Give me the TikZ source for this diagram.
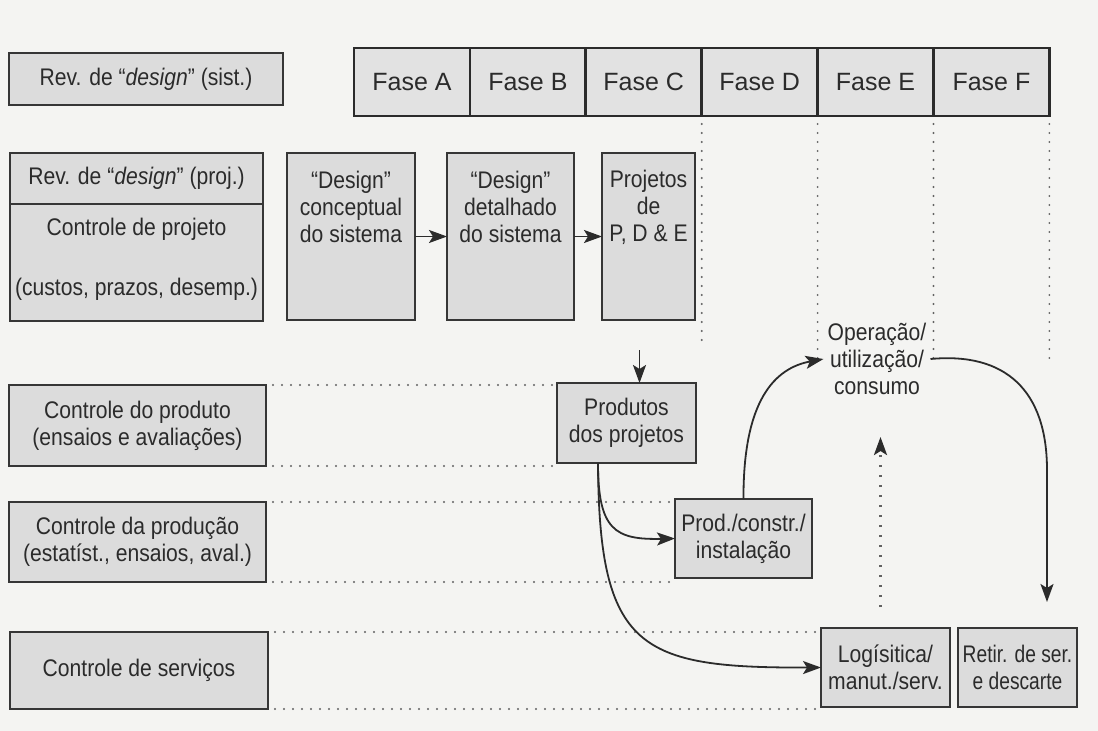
\documentclass[tikz,border=0pt]{standalone}
\usepackage{fontspec}
\setmainfont{Liberation Sans}
\newfontfamily\narrowsans[FakeStretch=0.88]{Liberation Sans}
\newfontfamily\narrowersans[FakeStretch=0.80]{Liberation Sans}
\usetikzlibrary{arrows.meta,calc}

\definecolor{ink}{HTML}{2B2B2B}
\definecolor{edge}{HTML}{363636}
\definecolor{boxfill}{HTML}{DCDCDC}
\definecolor{phasefill}{HTML}{E2E2E2}
\definecolor{paper}{HTML}{F4F4F2}
\definecolor{dotgray}{HTML}{626262}

\begin{document}
\begin{tikzpicture}[x=1pt,y=-1pt,
  txt/.style={text=ink,font=\narrowsans\fontsize{24}{27}\selectfont,align=center,inner sep=0pt},
  box/.style={txt,draw=edge,line width=1.9pt,fill=boxfill,anchor=north west,outer sep=0pt},
  phase/.style={draw=ink,line width=2.8pt,fill=phasefill,text=ink,font=\fontsize{25}{27}\selectfont,
    minimum width=115.9pt,minimum height=68pt,inner sep=0pt,outer sep=0pt},
  arr/.style={draw=ink,line width=1.8pt,-{Stealth[length=18pt,width=13pt,inset=4pt]}},
  guide/.style={draw=dotgray,line width=2.1pt,line cap=round,dash pattern=on 0pt off 9pt},
  upguide/.style={draw=dotgray,line width=2.6pt,dash pattern=on 2pt off 8pt,
    -{Stealth[length=18pt,width=13pt,inset=4pt,color=ink]}},
]
\fill[paper] (0,0) rectangle (1098,731);
\useasboundingbox (0,0) rectangle (1098,731);

% system design review and the phase bar
\node[box,minimum width=274pt,minimum height=52pt] (revsist) at (9,53) {Rev. de “\textit{design}” (sist.)};

\node[phase,anchor=north west] (fA) at (354,48) {Fase A};
\node[phase,anchor=west] (fB) at (fA.east) {Fase B};
\node[phase,anchor=west] (fC) at (fB.east) {Fase C};
\node[phase,anchor=west] (fD) at (fC.east) {Fase D};
\node[phase,anchor=west] (fE) at (fD.east) {Fase E};
\node[phase,anchor=west] (fF) at (fE.east) {Fase F};

% phase boundaries carried down
\draw[guide] ($(fD.south west)+(0,8)$) -- ++(0,218);
\draw[guide] ($(fE.south west)+(0,8)$) -- ++(0,238);
\draw[guide] ($(fF.south west)+(0,8)$) -- ++(0,238);
\draw[guide] ($(fF.south east)+(0,8)$) -- ++(0,240);

% project control
\node[box,minimum width=253pt,minimum height=51pt] (revproj) at (10,153) {Rev. de “\textit{design}” (proj.)};
\node[box,minimum width=253pt,minimum height=117pt] (ctrlproj) at (10,204) {};
\node[txt] (ctrlprojA) at ($(ctrlproj.north)+(0,25)$) {Controle de projeto};
\node[txt] (ctrlprojB) at ($(ctrlproj.north)+(0,85)$) {(custos, prazos, desemp.)};

% design sequence
\node[box,minimum width=128pt,minimum height=167pt] (concept) at (287,153) {};
\node[txt] (conceptT) at ($(concept.north)+(0,54)$) {“Design”\\conceptual\\do sistema};
\node[box,minimum width=127pt,minimum height=167pt] (detail) at (447,153) {};
\node[txt] (detailT) at ($(detail.north)+(0,54)$) {“Design”\\detalhado\\do sistema};
\node[box,minimum width=93pt,minimum height=167pt] (rdproj) at (602,153) {};
\node[txt] (rdprojT) at ($(rdproj.north)+(0,54)$) {Projetos\\de\\P, D \& E};

\draw[arr] (concept.east) -- (detail.west);
\draw[arr] (detail.east) -- (rdproj.west);

% products and life-cycle stages
\node[box,minimum width=139pt,minimum height=80pt] (outputs) at (557,383) {Produtos\\dos projetos};
\node[box,minimum width=137pt,minimum height=79pt] (build) at (675,499) {Prod./constr./\\instalação};
\node[txt,inner sep=4pt] (oper) at (877,359) {Operação/\\utilização/\\consumo};
\node[box,minimum width=129pt,minimum height=79pt] (logi) at (821,628) {Logísitica/\\manut./serv.};
\node[box,minimum width=119pt,minimum height=79pt,font=\narrowersans\fontsize{24}{27}\selectfont] (retir) at (958,628) {Retir. de ser.\\e descarte};

% control rows
\node[box,minimum width=257pt,minimum height=81pt] (cprod) at (9,385) {Controle do produto\\(ensaios e avaliações)};
\node[box,minimum width=257pt,minimum height=80pt] (cprodn) at (9,502) {Controle da produção\\(estatíst., ensaios, aval.)};
\node[box,minimum width=258pt,minimum height=77pt] (cserv) at (10,632) {Controle de serviços};

\draw[guide] ($(cprod.north east)+(7,0)$) -- (cprod.north east -| outputs.west);
\draw[guide] ($(cprod.south east)+(7,0)$) -- (cprod.south east -| outputs.west);
\draw[guide] ($(cprodn.north east)+(7,0)$) -- (cprodn.north east -| build.west);
\draw[guide] ($(cprodn.south east)+(7,0)$) -- (cprodn.south east -| build.west);
\draw[guide] ($(cserv.north east)+(7,0)$) -- (cserv.north east -| logi.west);
\draw[guide] ($(cserv.south east)+(7,0)$) -- (cserv.south east -| logi.west);

% flows
\coordinate (pd1) at ($(outputs.north)+(13,-33)$);
\draw[arr] (pd1) -- (pd1 |- outputs.north);

\coordinate (outfoot) at ($(outputs.south west)+(41,0)$);
\draw[arr] (outfoot) .. controls (598,530) and (615,540) .. (build.west);
\draw[arr] (outfoot) .. controls (599,650) and (640,668) .. (logi.west);
\draw[arr] (build.north) .. controls (743,400) and (775,368) .. (oper.west);

\coordinate (retirin) at ($(retir.north)+(29.5,-26)$);
\draw[arr] (oper.east) .. controls (1005,352) and (1047,390) .. (1047,470) -- (retirin);

\coordinate (logiup0) at ($(logi.north)+(-5,-21)$);
\coordinate (logiup1) at ($(logi.north)+(-5,-191)$);
\draw[upguide] (logiup0) -- (logiup1);
\end{tikzpicture}
\end{document}
